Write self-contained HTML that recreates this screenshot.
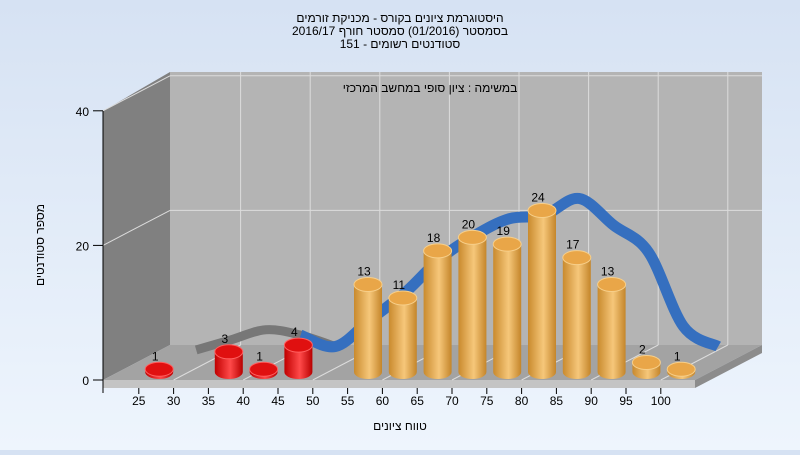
<!DOCTYPE html>
<html><head><meta charset="utf-8"><style>
body{margin:0;width:800px;height:450px;overflow:hidden;background:linear-gradient(#d6e2f3,#eef5fd);font-family:"Liberation Sans",sans-serif}
text{font-family:"Liberation Sans","Noto Sans CJK SC",sans-serif;font-size:12px;fill:#000}
</style></head><body>
<svg width="800" height="450">
<defs>
<linearGradient id="gold" x1="0" x2="1"><stop offset="0" stop-color="#c98a2e"/><stop offset="0.55" stop-color="#f6c77a"/><stop offset="1" stop-color="#c4852a"/></linearGradient>
<linearGradient id="red" x1="0" x2="1"><stop offset="0" stop-color="#c00000"/><stop offset="0.55" stop-color="#ff4a4a"/><stop offset="1" stop-color="#b80000"/></linearGradient>
</defs>
<g>
<text x="400" y="22" text-anchor="middle">היסטוגרמת ציונים בקורס - מכניקת זורמים</text>
<text x="400" y="35" text-anchor="middle">בסמסטר  (01/2016)  סמסטר חורף 2016/17</text>
<text x="400" y="48" text-anchor="middle">סטודנטים רשומים - 151</text>
</g>
<polygon points="103,111 170,72 170,345 103,380" fill="#808080"/>
<rect x="170" y="72" width="592" height="273" fill="#b4b4b4"/>
<polygon points="103,380 170,345 762,345 695,380" fill="#a3a3a3"/>
<polygon points="103,380 695,380 695,388 103,388" fill="#c4c4c4"/>
<polygon points="695,380 762,345 762,353 695,388" fill="#8c8c8c"/>
<g id="grid" stroke="#dcdcdc" stroke-width="1"></g>
<text x="430" y="92" text-anchor="middle">במשימה : ציון סופי במחשב המרכזי</text>
<g id="ribbon"></g>
<g id="bars"></g>
<g id="axes"></g>
<text x="0" y="0" transform="translate(44,245) rotate(-90)" text-anchor="middle">מספר סטודנטים</text>
<text x="400" y="430" text-anchor="middle">טווח ציונים</text>
</svg>
<script>
const tickLabels=["25","30","35","40","45","50","55","60","65","70","75","80","85","90","95","100"];
const counts=[0,1,0,3,1,4,0,13,11,18,20,19,24,17,13,2,1];
const trend=[null,1.5,3,4.5,3.7,2,6,10,15,18.5,21,21.5,24,20,16,5,2];
const yTicks=[0,20,40];
const X0=104,SLOT=34.8,Y0=380,UNIT=6.73,DX=67,DY=-35;
const ns="http://www.w3.org/2000/svg";
function mk(t,a,p){const e=document.createElementNS(ns,t);for(const k in a)e.setAttribute(k,a[k]);p.appendChild(e);return e;}
const xs=k=>X0+SLOT*(k+0.5);
const ys=v=>Y0-v*UNIT;
const grid=document.getElementById('grid');
for(let k=0;k<=counts.length;k+=2){const x=X0+SLOT*k+DX;if(x>172&&x<760)mk('line',{x1:x,y1:72,x2:x,y2:345},grid);const f=X0+SLOT*k;if(k>0)mk('line',{x1:f,y1:380,x2:f+DX,y2:345},grid);}
yTicks.forEach(v=>{if(v>0){const y=ys(v)+DY;mk('line',{x1:170,y1:y,x2:762,y2:y},grid);mk('line',{x1:103,y1:ys(v),x2:170,y2:y},grid);}});
const rib=document.getElementById('ribbon');
const pts=[];trend.forEach((v,k)=>{if(v!==null)pts.push([xs(k)+40,ys(v)-20]);});
function pathOf(p){let d='M'+p[0][0]+','+p[0][1];for(let i=0;i<p.length-1;i++){const a=p[i-1]||p[i],b=p[i],c=p[i+1],e=p[i+2]||c;
const c1=[b[0]+(c[0]-a[0])/6,b[1]+(c[1]-a[1])/6],c2=[c[0]-(e[0]-b[0])/6,c[1]-(e[1]-b[1])/6];
d+=' C'+c1[0]+','+c1[1]+' '+c2[0]+','+c2[1]+' '+c[0]+','+c[1];}return d;}
const gp=mk('path',{d:pathOf(pts.slice(0,5)),fill:'none',stroke:'#777',"stroke-width":9},rib);

const bp=mk('path',{d:pathOf(pts.slice(3)),fill:'none',stroke:'#356fbf',"stroke-width":11},rib);

const bars=document.getElementById('bars');
counts.forEach((v,k)=>{if(!v)return;const g=mk('g',{},bars);


const cx=xs(k)+3,w=14,ry=7,yb=Y0-8,yt=yb-v*UNIT+(v<3?4:0);
const fill=k<=5?'url(#red)':'url(#gold)',top=k<=5?'#e01010':'#e9a648';
mk('path',{d:`M${cx-w},${yt} L${cx-w},${yb} A${w},${ry} 0 0 0 ${cx+w},${yb} L${cx+w},${yt} Z`,fill:fill},g);
mk('ellipse',{cx:cx,cy:yt,rx:w,ry:ry,fill:top,stroke:k<=5?'#ff6060':'#f7cf8a'},g);
const t=mk('text',{x:cx-4,y:yt-9,"text-anchor":"middle"},g);t.textContent=v;});
const ax=document.getElementById('axes');
mk('line',{x1:103,y1:111,x2:103,y2:380,stroke:'#000'},ax);
mk('line',{x1:103,y1:380,x2:103,y2:393,stroke:'#000'},ax);
yTicks.forEach(v=>{mk('line',{x1:93,y1:ys(v),x2:103,y2:ys(v),stroke:'#000'},ax);const t=mk('text',{x:89,y:ys(v)+5,"text-anchor":"end","font-size":"14"},ax);t.textContent=v;});
tickLabels.forEach((l,i)=>{const x=X0+SLOT*(i+1);mk('line',{x1:x,y1:388,x2:x,y2:394,stroke:'#000'},ax);const t=mk('text',{x:x,y:405,"text-anchor":"middle"},ax);t.textContent=l;});
</script>
</body></html>
